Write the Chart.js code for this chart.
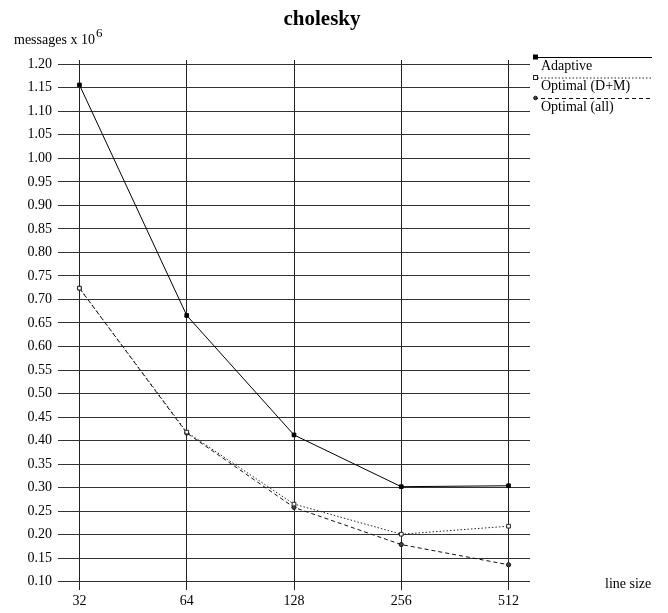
<!DOCTYPE html>
<html>
<head>
<meta charset="utf-8">
<script src="https://cdn.jsdelivr.net/npm/chart.js@4.4.1/dist/chart.umd.min.js"></script>
<style>
  html, body { margin: 0; padding: 0; background: #fff; }
  #wrap { width: 668px; height: 613px; position: relative; }
</style>
</head>
<body>
<div id="wrap"><canvas id="c" width="668" height="613"></canvas></div>
<script>
const chartTitle = 'cholesky';
const yAxisTitle = 'messages x 10';
const yAxisExp = '6';
const xAxisTitle = 'line size';
const categories = ['32', '64', '128', '256', '512'];
const seriesNames = ['Adaptive', 'Optimal (D+M)', 'Optimal (all)'];
const adaptive   = [1.156, 0.666, 0.412, 0.302, 0.304];
const optimalDM  = [0.724, 0.418, 0.265, 0.201, 0.218];
const optimalAll = [0.724, 0.416, 0.258, 0.179, 0.136];
const yTickValues = [0.10, 0.15, 0.20, 0.25, 0.30, 0.35, 0.40, 0.45, 0.50, 0.55, 0.60,
                     0.65, 0.70, 0.75, 0.80, 0.85, 0.90, 0.95, 1.00, 1.05, 1.10, 1.15, 1.20];

const FONT = "'Liberation Serif', 'Times New Roman', serif";

function pts(arr) { return categories.map((c, i) => ({ x: i, y: arr[i] })); }

const styles = [
  { borderColor: '#000', backgroundColor: '#000', borderDash: [], pointStyle: 'rect', pointRadius: 2.6 },
  { borderColor: '#222', backgroundColor: '#fff', borderDash: [1.5, 2], pointStyle: 'rect', pointRadius: 2.6 },
  { borderColor: '#111', backgroundColor: '#444', borderDash: [4, 3], pointStyle: 'circle', pointRadius: 2.1 }
];
const seriesData = [adaptive, optimalDM, optimalAll];

const datasets = seriesNames.map((name, i) => ({
  label: name,
  data: pts(seriesData[i]),
  borderColor: styles[i].borderColor,
  backgroundColor: styles[i].backgroundColor,
  borderDash: styles[i].borderDash,
  borderWidth: 1,
  pointStyle: styles[i].pointStyle,
  pointRadius: styles[i].pointRadius,
  pointBorderWidth: 1,
  pointBorderColor: styles[i].borderColor,
  pointBackgroundColor: styles[i].backgroundColor,
  tension: 0,
  fill: false
}));

const decor = {
  id: 'decor',
  afterDraw(chart) {
    const ctx = chart.ctx;
    ctx.save();
    ctx.fillStyle = '#000';
    // title
    ctx.font = 'bold 21px ' + FONT;
    ctx.textAlign = 'center';
    ctx.textBaseline = 'alphabetic';
    ctx.fillText(chartTitle, 322, 25);
    // y title
    ctx.textAlign = 'left';
    ctx.font = '14px ' + FONT;
    ctx.fillText(yAxisTitle, 14, 44);
    const w = ctx.measureText(yAxisTitle).width;
    ctx.font = '13px ' + FONT;
    ctx.fillText(yAxisExp, 14 + w + 1, 37);
    // x title
    ctx.font = '14px ' + FONT;
    ctx.fillText(xAxisTitle, 605, 588);
    // legend
    chart.data.datasets.forEach((ds, i) => {
      const ly = 57.5 + i * 20.5;
      ctx.save();
      ctx.strokeStyle = ds.borderColor;
      ctx.lineWidth = 1;
      ctx.setLineDash(ds.borderDash);
      ctx.beginPath();
      ctx.moveTo(534, ly);
      ctx.lineTo(652, ly);
      ctx.stroke();
      ctx.restore();
      ctx.save();
      ctx.strokeStyle = ds.borderColor;
      ctx.fillStyle = ds.backgroundColor;
      ctx.lineWidth = 1;
      const mx = 535.5, my = ly - 0.5;
      if (ds.pointStyle === 'rect') {
        ctx.fillRect(mx - 2, my - 2, 4, 4);
        ctx.strokeRect(mx - 2, my - 2, 4, 4);
      } else {
        ctx.beginPath();
        ctx.arc(mx, my, 1.8, 0, Math.PI * 2);
        ctx.fill();
        ctx.stroke();
      }
      ctx.restore();
      ctx.fillStyle = '#000';
      ctx.font = '14px ' + FONT;
      ctx.textAlign = 'left';
      ctx.fillText(ds.label, 541, ly + 12);
    });
    ctx.restore();
  }
};

new Chart(document.getElementById('c'), {
  type: 'line',
  data: { datasets },
  plugins: [decor],
  options: {
    responsive: false,
    animation: false,
    devicePixelRatio: 1,
    layout: { padding: { top: 60, right: 138, left: 0, bottom: 0 } },
    plugins: { legend: { display: false }, title: { display: false }, tooltip: { enabled: false } },
    scales: {
      x: {
        type: 'linear',
        min: -0.2,
        max: 4.2,
        afterBuildTicks: (s) => { s.ticks = categories.map((c, i) => ({ value: i })); },
        afterFit: (s) => { s.height = 23; },
        ticks: {
          callback: (v) => categories[v],
          font: { family: FONT, size: 14 },
          color: '#000',
          padding: 3,
          maxRotation: 0,
          autoSkip: false
        },
        grid: { color: '#222', lineWidth: 1, drawTicks: false },
        border: { display: false }
      },
      y: {
        type: 'linear',
        min: 0.0824,
        max: 1.209,
        afterBuildTicks: (s) => { s.ticks = yTickValues.map(v => ({ value: v })); },
        afterFit: (s) => { s.width = 58; },
        ticks: {
          callback: (v) => Number(v).toFixed(2),
          font: { family: FONT, size: 14 },
          color: '#000',
          padding: 6,
          autoSkip: false
        },
        grid: { color: '#333', lineWidth: 1, drawTicks: false },
        border: { display: false }
      }
    }
  }
});
</script>
</body>
</html>
